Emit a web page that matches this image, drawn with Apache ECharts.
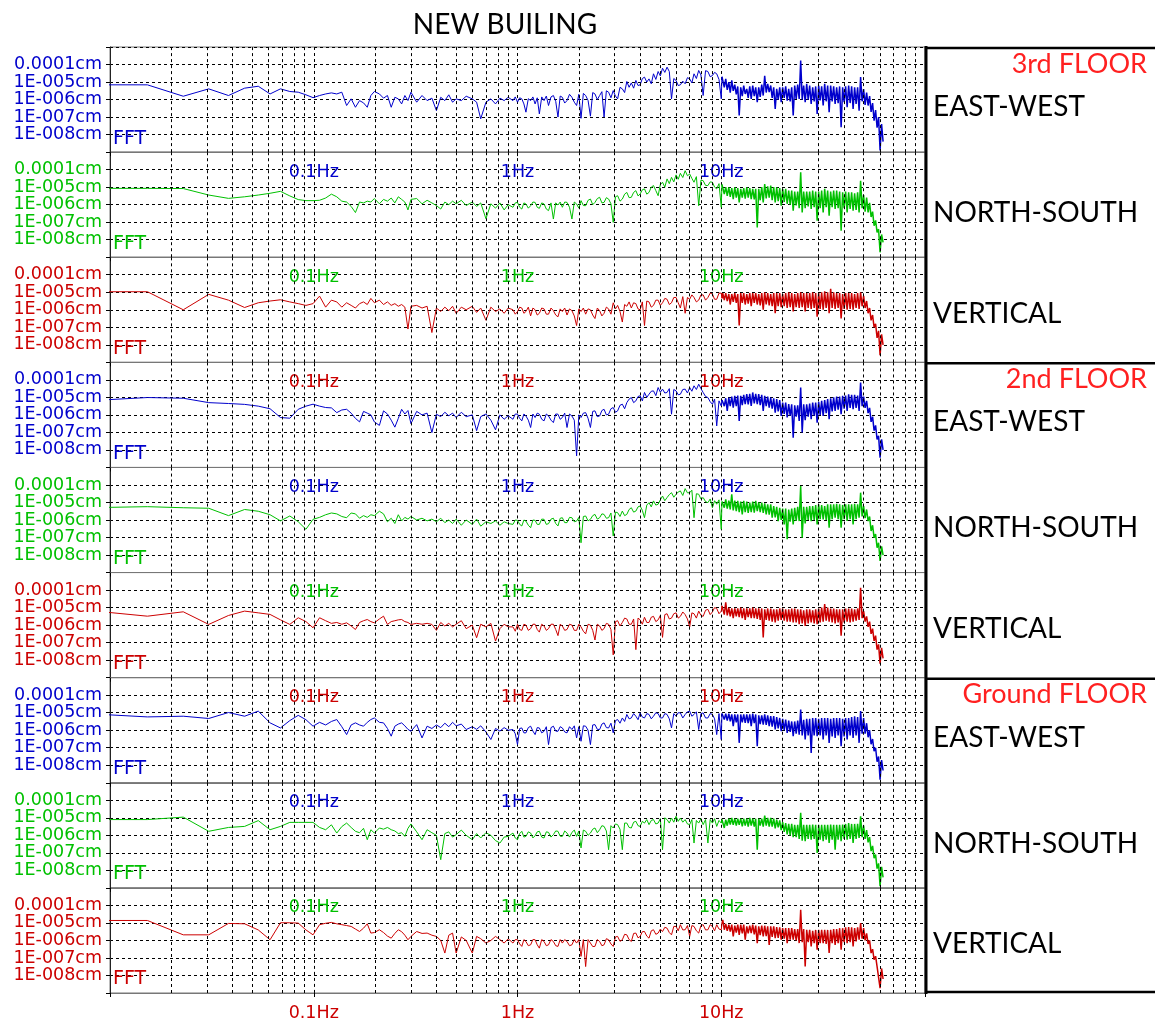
<!DOCTYPE html>
<html><head><meta charset="utf-8">
<script src="https://cdn.jsdelivr.net/npm/echarts@6/dist/echarts.min.js"></script>
<style>html,body{margin:0;padding:0;background:#fff}#c{width:1155px;height:1022px}</style>
</head><body><div id="c"></div><script>
// ---------- DATA ----------
const chartTitle = 'NEW BUILING';
const floorNames = ['3rd FLOOR', '2nd FLOOR', 'Ground FLOOR'];
const directionNames = ['EAST-WEST', 'NORTH-SOUTH', 'VERTICAL'];
const xTickValues = [0.1, 1, 10];
const xTickLabels = ['0.1Hz', '1Hz', '10Hz'];
const yTickValues = [1e-4, 1e-5, 1e-6, 1e-7, 1e-8];
const yTickLabels = ['0.0001cm', '1E-005cm', '1E-006cm', '1E-007cm', '1E-008cm'];
const minorGridHz = [0.02,0.03,0.04,0.05,0.06,0.07,0.08,0.09,0.2,0.3,0.4,0.5,0.6,0.7,0.8,0.9,2,3,4,5,6,7,8,9,20,30,40,50,60,70,80,90];

// frequencies (Hz) of the points, below 1 Hz
const freqLowHz = [0.00763,0.01526,0.02289,0.03052,0.03815,0.04578,0.05341,0.06104,0.06866,0.07629,0.08392,0.09155,0.09918,
0.1068,0.1144,0.1221,0.1297,0.1373,0.1450,0.1526,0.1602,0.1678,0.1755,0.1831,0.1907,0.1984,
0.21,0.22,0.23,0.24,0.25,0.26,0.27,0.28,0.29,0.30,
0.32,0.34,0.36,0.38,0.40,0.42,0.44,0.46,0.48,0.50,
0.53,0.56,0.60,0.63,0.66,0.70,0.74,0.78,0.82,0.86,0.90];
// 1-10 Hz: main points and the points read on the other side of the noise band just after them
const freqMidHz = [0.95,1.00,1.05,1.10,1.16,1.22,1.28,1.35,1.42,1.50,1.58,1.66,1.75,1.85,1.95,2.05,2.16,2.28,2.40,2.53,
2.66,2.80,2.95,3.10,3.27,3.44,3.62,3.81,4.00,4.20,4.42,4.65,4.90,5.15,5.42,5.70,6.00,6.30,6.65,7.00,
7.35,7.75,8.15,8.60,9.05,9.50,10.0];
const freqMidAltHz = [0.975,1.025,1.075,1.13,1.19,1.25,1.315,1.385,1.46,1.54,1.62,1.705,1.80,1.90,2.00,2.105,2.22,2.34,2.465,2.595,
2.73,2.875,3.025,3.185,3.355,3.53,3.715,3.905,4.10,4.31,4.535,4.775,5.025,5.285,5.56,5.85,6.15,6.475,6.825,7.175,
7.55,7.95,8.375,8.825,9.275,9.75,10.08];
// dense band above 10 Hz
const freqHighHz = [10.17,10.35,10.52,10.70,10.89,11.07,11.26,11.45,11.65,11.85,12.05,12.25,12.46,12.68,12.89,13.11,
13.34,13.56,13.80,14.03,14.27,14.52,14.76,15.02,15.27,15.53,15.80,16.07,16.34,16.62,16.90,17.19,
17.49,17.78,18.09,18.40,18.71,19.03,19.36,19.69,20.02,20.37,20.71,21.07,21.43,21.79,22.17,22.55,
22.93,23.32,23.72,24.13,24.54,24.96,25.38,25.82,26.26,26.71,27.16,27.63,28.10,28.58,29.07,29.56,
30.07,30.58,31.10,31.64,32.18,32.73,33.28,33.85,34.43,35.02,35.62,36.22,36.84,37.47,38.11,38.76,
39.42,40.10,40.78,41.48,42.19,42.91,43.64,44.38,45.14,45.91,46.69,47.49,48.30,49.13,49.97,50.82,
51.69,52.57,53.47,54.38,55.31,56.25,57.21,58.19,59.18,60.19,61.22,62.27];

// amplitudes, as log10 of the displacement in cm
// --- below 1 Hz
const ew3Low = [-5.16,-5.16,-5.81,-5.39,-5.77,-5.35,-5.24,-5.68,-5.39,-5.54,-5.58,-5.73,-5.89,
-5.77,-5.68,-5.62,-5.68,-5.58,-6.34,-5.96,-6.44,-6.06,-6.19,-6.44,-5.77,-5.54,
-5.68,-5.92,-5.77,-6.44,-5.87,-5.96,-6.25,-5.77,-6.06,-5.58,
-6.15,-5.77,-6.06,-5.92,-6.63,-5.87,-6.06,-5.73,-6.15,-5.96,
-6.06,-5.81,-5.96,-6.15,-7.10,-6.15,-5.96,-6.25,-5.92,-6.06,-5.87];
const ns3Low = [-5.07,-5.07,-5.08,-5.45,-5.64,-5.55,-5.45,-5.35,-5.24,-5.50,-5.71,-5.77,-5.77,
-5.75,-5.62,-5.40,-5.55,-5.80,-5.85,-6.10,-6.45,-5.85,-5.90,-5.80,-5.85,-5.65,
-5.95,-5.70,-5.80,-5.62,-5.90,-5.55,-5.70,-5.85,-6.30,-5.70,
-5.65,-5.95,-5.75,-5.90,-6.05,-6.25,-5.85,-6.00,-5.80,-5.95,
-5.75,-6.05,-5.85,-6.10,-5.90,-6.80,-5.95,-6.20,-5.90,-6.30,-6.00];
const v3Low = [-4.97,-4.97,-6.00,-5.12,-5.45,-5.87,-5.60,-5.50,-5.43,-5.55,-5.65,-5.75,-5.65,
-5.22,-5.85,-5.45,-5.55,-5.85,-5.60,-5.75,-5.90,-5.65,-5.55,-5.70,-5.35,-5.60,
-5.45,-5.70,-5.55,-5.75,-5.65,-5.80,-5.70,-5.85,-7.10,-5.80,
-5.75,-5.90,-5.80,-7.30,-5.90,-6.10,-5.85,-6.05,-5.80,-6.20,
-5.85,-6.00,-5.80,-6.15,-5.90,-6.60,-5.85,-6.10,-5.95,-6.20,-5.90];
const ew2Low = [-5.20,-5.01,-5.05,-5.30,-5.35,-5.40,-5.50,-5.65,-6.15,-6.19,-5.68,-5.50,-5.39,
-5.50,-5.58,-5.60,-5.87,-5.72,-5.68,-5.90,-6.20,-6.40,-5.80,-5.90,-6.00,-6.40,
-6.60,-5.77,-5.95,-6.30,-6.70,-6.20,-5.68,-5.95,-5.75,-6.50,
-5.80,-6.00,-5.90,-7.01,-5.96,-6.10,-5.85,-6.05,-5.90,-6.15,
-5.85,-6.10,-6.00,-6.90,-6.10,-5.95,-6.30,-6.85,-6.00,-6.25,-6.05];
const ns2Low = [-5.30,-5.24,-5.30,-5.33,-5.75,-5.40,-5.50,-5.70,-6.05,-5.77,-6.10,-6.53,-5.96,
-5.85,-5.70,-5.60,-5.65,-5.80,-5.87,-5.60,-5.65,-5.90,-5.75,-5.85,-5.70,-5.75,
-5.50,-5.65,-6.10,-5.90,-6.20,-5.70,-6.05,-5.85,-5.95,-5.80,
-6.00,-5.90,-6.05,-5.95,-6.10,-5.90,-6.15,-6.00,-6.20,-5.95,
-6.30,-6.00,-6.25,-5.95,-6.35,-6.10,-6.20,-6.05,-6.30,-6.10,-6.20];
const v2Low = [-5.15,-5.49,-5.24,-5.96,-5.45,-5.20,-5.30,-5.39,-5.70,-5.96,-5.58,-5.80,-6.15,
-5.58,-5.75,-5.90,-5.85,-5.95,-5.87,-6.05,-6.25,-5.85,-5.75,-5.68,-5.80,-5.87,
-5.65,-5.49,-5.96,-5.80,-5.75,-5.70,-5.68,-5.80,-5.85,-5.96,
-5.90,-5.95,-5.90,-5.96,-6.30,-5.85,-6.05,-5.90,-6.10,-5.95,
-5.75,-6.20,-6.00,-6.72,-5.95,-6.10,-5.90,-6.91,-6.20,-5.95,-6.10];
const ewGLow = [-5.05,-5.24,-5.20,-5.33,-4.99,-5.20,-4.91,-5.58,-5.87,-5.45,-5.15,-5.40,-5.77,
-5.55,-5.70,-5.50,-5.39,-5.80,-6.25,-5.70,-5.58,-5.70,-5.77,-5.55,-5.39,-5.30,
-5.55,-5.58,-5.90,-6.34,-5.77,-5.65,-5.58,-5.75,-5.95,-6.06,
-5.68,-6.44,-5.77,-5.90,-5.70,-5.85,-5.60,-5.80,-5.55,-5.75,
-5.65,-5.96,-5.80,-5.95,-5.75,-6.10,-6.53,-5.90,-6.05,-5.85,-6.00];
const nsGLow = [-5.10,-5.10,-4.96,-5.77,-5.55,-5.49,-5.16,-5.68,-5.49,-5.26,-5.26,-5.26,-5.26,
-5.55,-5.68,-5.40,-5.87,-5.50,-5.30,-5.55,-5.77,-5.85,-5.60,-6.25,-5.68,-5.87,
-5.58,-5.65,-5.55,-5.68,-5.75,-5.90,-5.85,-6.06,-5.60,-5.35,
-5.80,-6.25,-5.68,-5.85,-6.00,-7.39,-5.90,-5.80,-6.10,-5.96,
-5.70,-6.00,-6.25,-5.90,-6.15,-5.85,-6.00,-6.30,-6.44,-6.10,-6.06];
const vGLow = [-4.86,-4.86,-5.68,-5.68,-5.03,-5.05,-5.40,-5.96,-4.99,-4.99,-5.01,-5.40,-5.68,
-5.10,-5.02,-4.97,-5.05,-5.10,-5.15,-5.20,-5.35,-5.49,-5.30,-5.05,-5.58,-5.55,
-5.39,-5.55,-5.75,-5.87,-5.60,-5.39,-5.50,-5.70,-5.96,-5.77,
-5.49,-5.60,-5.58,-5.70,-5.77,-6.00,-6.72,-5.70,-5.58,-6.72,
-5.80,-6.00,-6.72,-5.77,-5.90,-6.15,-6.00,-5.77,-5.95,-6.15,-5.90];

// --- 1-10 Hz main points
const ew3Mid = [-6.06,-6.15,-5.96,-6.72,-6.06,-6.25,-6.82,-6.06,-6.34,-5.77,-7.00,-5.87,-6.06,-5.87,-6.34,-7.07,-5.77,-6.95,-5.68,-5.77,
-7.00,-5.58,-5.49,-5.96,-5.39,-4.97,-5.05,-4.91,-5.16,-4.72,-4.82,-4.53,-4.40,-4.21,-4.15,-5.96,-4.91,-5.16,-5.10,-4.82,
-4.53,-4.34,-5.77,-4.40,-4.63,-4.53,-5.96];
const ns3Mid = [-6.15,-5.87,-6.25,-5.96,-6.06,-5.87,-6.21,-5.96,-6.34,-6.82,-6.02,-6.15,-5.87,-6.82,-5.96,-5.77,-6.06,-5.68,-5.87,-5.58,
-5.87,-5.68,-7.01,-5.49,-5.68,-5.30,-5.58,-5.20,-5.39,-5.10,-5.30,-4.91,-5.49,-4.72,-4.53,-4.44,-4.30,-4.21,-4.06,-4.25,
-4.72,-6.06,-4.63,-4.91,-4.72,-5.10,-6.15];
const v3Mid = [-6.00,-6.10,-5.90,-6.10,-6.35,-6.00,-6.20,-5.95,-6.25,-6.05,-6.40,-6.10,-6.30,-6.05,-6.90,-6.10,-6.25,-6.00,-6.50,-6.05,
-6.20,-5.95,-5.60,-5.75,-6.70,-5.80,-5.90,-5.65,-6.00,-6.90,-5.55,-5.75,-5.45,-5.60,-5.40,-5.60,-5.30,-5.90,-6.20,-5.40,
-5.30,-5.45,-5.15,-5.30,-5.10,-5.40,-5.05];
const ew2Mid = [-6.25,-5.96,-6.34,-6.06,-6.72,-6.15,-5.96,-6.34,-6.06,-6.44,-5.96,-6.15,-6.72,-6.06,-8.34,-6.15,-5.87,-6.72,-5.77,-6.06,
-5.68,-5.96,-5.58,-5.77,-5.39,-5.30,-5.01,-5.20,-4.91,-4.72,-4.82,-4.63,-4.44,-4.53,-4.72,-5.96,-4.63,-4.82,-4.53,-4.44,
-4.34,-4.25,-4.72,-5.01,-5.39,-6.63,-5.49];
const ns2Mid = [-6.25,-6.02,-6.34,-6.06,-6.44,-6.02,-6.25,-5.96,-6.21,-5.90,-6.34,-5.87,-6.15,-5.87,-6.06,-7.30,-5.77,-5.96,-5.68,-5.87,
-5.68,-5.87,-6.91,-5.58,-5.49,-5.68,-5.30,-5.49,-5.20,-5.87,-5.01,-4.91,-5.10,-4.63,-4.72,-4.44,-4.53,-4.34,-4.21,-4.44,
-5.87,-4.53,-4.72,-5.01,-5.30,-5.10,-6.53];
const v2Mid = [-6.10,-5.95,-6.30,-6.00,-6.20,-5.95,-6.40,-6.05,-6.20,-5.95,-6.60,-6.05,-6.25,-6.00,-6.30,-6.10,-6.50,-6.00,-6.85,-6.05,
-6.20,-5.95,-7.70,-5.75,-5.85,-5.65,-5.95,-7.40,-5.70,-5.55,-5.85,-5.50,-5.70,-6.70,-5.35,-5.60,-5.30,-5.50,-5.40,-6.10,
-5.35,-5.20,-5.50,-5.10,-5.25,-5.05,-5.20];
const ewGMid = [-5.96,-6.82,-5.87,-6.15,-5.77,-6.25,-5.87,-6.06,-6.82,-5.77,-6.06,-5.87,-6.15,-5.96,-6.44,-6.63,-5.77,-6.82,-5.68,-5.96,
-5.58,-5.87,-6.15,-5.39,-5.30,-5.10,-5.30,-5.20,-5.01,-5.30,-5.10,-5.20,-5.05,-5.30,-5.10,-5.87,-5.20,-5.01,-5.10,-4.91,
-5.10,-5.96,-5.01,-5.30,-5.10,-6.25,-6.53];
const nsGMid = [-5.87,-6.25,-5.77,-6.06,-5.87,-6.02,-5.77,-6.15,-5.83,-5.96,-5.77,-6.06,-5.87,-5.83,-6.06,-6.72,-5.77,-5.87,-5.58,-5.68,
-5.49,-6.82,-5.58,-5.39,-6.82,-5.30,-5.58,-5.20,-5.49,-5.30,-5.39,-5.10,-5.30,-6.82,-5.10,-5.01,-4.91,-5.01,-5.10,-5.39,
-6.44,-5.30,-5.39,-6.44,-5.30,-5.49,-5.30];
const vGMid = [-6.15,-5.96,-6.34,-6.06,-6.25,-5.96,-6.44,-6.06,-6.25,-6.06,-6.34,-6.15,-6.06,-6.25,-6.15,-6.91,-7.49,-6.15,-6.34,-6.06,
-6.25,-5.96,-6.34,-5.77,-5.96,-5.68,-6.06,-5.58,-5.77,-5.49,-5.87,-5.39,-5.58,-5.49,-5.30,-5.68,-5.20,-5.10,-5.39,-5.77,
-5.20,-5.58,-5.10,-5.39,-5.20,-5.10,-5.39];

// --- 1-10 Hz points on the other side of the noise band
const ew3MidAlt = [-5.85,-5.90,-6.25,-5.95,-5.85,-5.90,-5.85,-5.80,-5.85,-6.10,-5.80,-6.20,-5.70,-6.15,-5.70,-5.65,-6.05,-5.60,-6.00,-5.55,
-5.50,-5.90,-5.80,-5.30,-5.60,-5.30,-5.35,-5.20,-4.80,-5.00,-5.10,-4.85,-4.65,-4.45,-4.40,-4.80,-5.20,-4.95,-4.75,-5.05,
-4.80,-4.60,-4.35,-4.70,-4.45,-4.85,-4.70];
const ns3MidAlt = [-5.90,-6.15,-5.90,-6.20,-5.85,-6.15,-5.90,-6.25,-5.90,-5.90,-5.85,-5.85,-6.15,-5.85,-6.20,-6.05,-5.75,-6.00,-5.65,-5.90,
-5.60,-5.95,-5.55,-5.80,-5.40,-5.60,-5.30,-5.50,-5.15,-5.40,-5.00,-5.20,-4.85,-5.00,-4.80,-4.70,-4.55,-4.45,-4.35,-4.50,
-4.40,-4.60,-4.90,-4.70,-5.00,-4.80,-4.85];
const v3MidAlt = [-6.25,-5.85,-6.20,-5.85,-5.90,-6.30,-5.90,-6.25,-5.90,-6.30,-5.95,-5.90,-5.95,-6.35,-5.95,-5.90,-5.95,-6.30,-5.90,-6.35,
-5.85,-6.25,-5.95,-6.10,-5.70,-5.55,-5.60,-5.95,-5.55,-5.50,-5.85,-5.45,-5.75,-5.35,-5.70,-5.30,-5.60,-5.25,-5.30,-5.15,
-5.55,-5.15,-5.45,-5.05,-5.40,-5.05,-5.35];
const ew2MidAlt = [-5.95,-6.20,-5.95,-6.30,-5.95,-5.90,-6.25,-5.95,-6.30,-5.95,-6.25,-5.90,-5.95,-6.30,-6.00,-5.90,-6.20,-5.80,-6.10,-5.75,
-6.00,-5.65,-5.85,-5.45,-5.65,-5.10,-5.30,-4.95,-5.20,-5.00,-4.65,-4.90,-4.70,-4.75,-4.50,-4.55,-4.85,-4.55,-4.75,-4.65,
-4.55,-4.50,-4.95,-5.25,-5.10,-5.20,-5.15];
const ns2MidAlt = [-6.00,-6.25,-6.00,-6.30,-6.00,-6.25,-5.95,-6.25,-5.95,-6.20,-5.90,-6.15,-5.85,-6.10,-5.85,-5.80,-6.05,-5.75,-5.95,-5.65,
-5.90,-5.60,-5.55,-5.80,-5.75,-5.40,-5.55,-5.25,-5.45,-5.15,-5.25,-5.15,-4.85,-4.90,-4.55,-4.70,-4.40,-4.60,-4.45,-4.30,
-4.50,-4.80,-4.95,-4.80,-4.90,-4.85,-4.95];
const v2MidAlt = [-6.35,-6.25,-5.95,-6.30,-5.95,-6.25,-5.95,-6.30,-5.95,-6.25,-5.95,-6.30,-5.95,-6.30,-5.95,-6.35,-5.95,-6.30,-5.95,-6.30,
-5.90,-6.25,-5.80,-6.05,-5.60,-5.95,-5.65,-5.60,-5.95,-5.85,-5.55,-5.80,-5.45,-5.40,-5.65,-5.35,-5.60,-5.25,-5.65,-5.30,
-5.60,-5.45,-5.15,-5.40,-5.00,-5.35,-4.90];
const ewGMidAlt = [-6.20,-5.90,-6.15,-5.85,-6.05,-5.85,-6.15,-5.80,-5.85,-6.05,-5.80,-6.10,-5.80,-5.75,-5.80,-5.75,-6.00,-5.70,-5.95,-5.65,
-5.85,-5.60,-5.45,-5.60,-5.50,-5.35,-5.05,-5.40,-5.25,-5.05,-5.35,-5.00,-5.30,-5.05,-5.35,-5.05,-5.00,-5.30,-4.95,-5.20,
-4.95,-5.05,-5.30,-5.05,-5.35,-5.05,-5.05];
const nsGMidAlt = [-6.15,-5.90,-6.10,-5.80,-6.15,-5.80,-6.10,-5.80,-6.10,-5.75,-6.05,-5.75,-6.10,-5.70,-5.75,-5.70,-6.00,-5.65,-5.85,-5.45,
-5.75,-5.45,-5.35,-5.65,-5.30,-5.55,-5.25,-5.45,-5.20,-5.10,-5.15,-5.35,-5.05,-5.00,-5.30,-5.25,-5.20,-5.25,-5.35,-5.10,
-5.15,-5.05,-5.10,-5.10,-5.05,-5.15,-5.10];
const vGMidAlt = [-5.95,-6.20,-5.95,-6.30,-5.95,-6.25,-5.95,-6.30,-5.95,-6.30,-5.95,-5.95,-6.30,-5.95,-5.95,-5.95,-5.95,-6.35,-5.95,-6.30,
-5.90,-6.20,-5.80,-6.05,-5.65,-5.95,-5.60,-5.85,-5.50,-5.75,-5.45,-5.65,-5.35,-5.25,-5.55,-5.20,-5.45,-5.40,-5.15,-5.15,
-5.45,-5.15,-5.40,-5.10,-5.45,-5.35,-5.05];

// --- above 10 Hz: alternating top / bottom of the dense noise band
const ew3Hi = [-4.72,-5.30,-4.82,-5.45,-5.01,-5.60,-4.91,-5.50,-5.15,-5.70,-5.25,-6.91,-5.30,-5.80,-5.20,-5.68,
-5.39,-5.90,-5.25,-5.96,-5.20,-5.80,-5.30,-6.15,-5.30,-5.85,-5.15,-5.77,-4.65,-5.60,-5.10,-5.58,
-5.20,-5.90,-5.30,-6.53,-5.39,-6.00,-5.30,-6.15,-5.30,-5.90,-5.25,-6.06,-5.39,-6.10,-5.30,-6.91,
-5.20,-5.96,-5.15,-5.96,-3.77,-6.00,-5.20,-6.15,-5.10,-6.00,-5.20,-6.25,-5.30,-6.10,-5.25,-6.82,
-5.20,-6.05,-5.25,-6.34,-5.10,-6.10,-5.20,-6.72,-5.20,-6.10,-5.25,-6.25,-5.30,-6.20,-5.25,-7.58,
-5.30,-6.15,-5.25,-6.44,-5.20,-6.20,-5.25,-6.53,-5.30,-6.25,-5.30,-6.63,-4.72,-6.10,-5.40,-6.30,
-5.60,-6.34,-5.80,-6.70,-6.20,-7.20,-6.60,-7.60,-7.00,-8.90,-7.40,-8.40];
const ns3Hi = [-4.91,-5.40,-5.00,-5.50,-5.01,-5.55,-5.05,-5.68,-5.01,-5.60,-5.05,-5.87,-5.10,-5.60,-5.05,-5.65,
-5.01,-5.60,-5.05,-5.68,-5.10,-5.70,-5.10,-7.30,-5.10,-5.75,-5.00,-5.87,-4.82,-5.65,-4.95,-5.60,
-4.91,-5.75,-5.00,-5.87,-5.01,-5.80,-5.05,-6.06,-5.10,-5.85,-5.10,-5.95,-5.20,-6.00,-5.20,-6.34,
-5.25,-6.05,-5.25,-6.20,-4.15,-6.44,-5.25,-6.20,-5.25,-6.10,-5.25,-6.25,-5.20,-6.15,-5.25,-6.91,
-5.25,-6.20,-5.20,-6.44,-5.10,-6.15,-5.20,-6.63,-5.25,-6.15,-5.20,-6.25,-5.20,-6.20,-5.25,-7.49,
-5.30,-6.20,-5.25,-6.44,-5.30,-6.25,-5.30,-6.34,-5.35,-6.30,-5.30,-6.44,-4.63,-6.20,-5.45,-6.40,
-5.60,-6.44,-5.90,-6.70,-6.40,-7.20,-6.90,-7.58,-7.40,-8.72,-7.70,-8.15];
const v3Hi = [-5.05,-5.45,-5.05,-5.50,-5.10,-5.70,-5.10,-5.55,-5.05,-5.60,-5.10,-6.90,-5.05,-5.60,-5.05,-5.70,
-5.10,-5.65,-5.05,-5.80,-5.05,-5.60,-5.05,-5.70,-5.10,-5.75,-5.05,-6.00,-5.00,-5.70,-5.05,-5.75,
-5.10,-5.80,-5.05,-6.20,-5.05,-5.80,-5.05,-5.85,-5.10,-5.80,-5.05,-5.90,-5.00,-5.85,-5.05,-6.10,
-5.10,-5.85,-5.05,-5.90,-5.00,-5.85,-5.05,-6.10,-5.05,-5.90,-5.05,-5.95,-5.00,-5.90,-5.05,-6.40,
-5.05,-5.95,-5.00,-6.00,-4.95,-5.90,-5.00,-6.20,-4.80,-5.90,-5.00,-5.95,-5.05,-5.90,-5.05,-6.50,
-5.10,-5.95,-5.05,-6.00,-5.05,-5.95,-5.05,-6.00,-5.10,-5.90,-5.05,-5.95,-5.00,-5.80,-5.20,-5.90,
-5.50,-6.20,-5.90,-6.60,-6.30,-7.00,-6.80,-7.60,-7.20,-8.60,-7.40,-8.00];
const ew2Hi = [-5.10,-5.50,-5.05,-5.77,-5.01,-5.50,-4.95,-5.58,-4.91,-5.50,-4.90,-6.34,-4.91,-5.45,-4.85,-5.39,
-4.82,-5.40,-4.80,-5.49,-4.72,-5.35,-4.80,-5.39,-4.82,-5.45,-4.85,-5.77,-4.91,-5.50,-4.95,-5.58,
-5.01,-5.65,-5.05,-5.87,-5.10,-5.80,-5.15,-6.06,-5.30,-5.95,-5.30,-6.15,-5.39,-6.05,-5.40,-7.30,
-5.45,-6.10,-5.45,-6.34,-4.44,-7.01,-5.40,-6.30,-5.40,-6.10,-5.35,-6.25,-5.30,-6.05,-5.30,-6.44,
-5.25,-6.00,-5.20,-6.06,-5.15,-5.90,-5.10,-6.25,-5.05,-5.80,-5.00,-5.77,-4.95,-5.70,-4.95,-5.96,
-4.91,-5.65,-4.90,-5.77,-4.82,-5.60,-4.85,-5.68,-4.85,-5.60,-4.90,-5.77,-4.15,-5.50,-4.95,-5.60,
-5.20,-5.90,-5.60,-6.40,-6.10,-6.90,-6.60,-7.40,-7.20,-8.44,-7.39,-8.00];
const ns2Hi = [-4.95,-5.30,-4.82,-5.35,-4.90,-5.40,-4.53,-5.45,-4.90,-5.50,-4.91,-5.55,-4.95,-5.68,-4.91,-5.55,
-4.95,-5.60,-5.01,-5.55,-4.95,-5.58,-4.91,-5.50,-5.00,-5.55,-5.01,-5.60,-5.05,-5.68,-5.10,-5.70,
-5.10,-5.87,-5.20,-5.85,-5.25,-6.06,-5.30,-6.00,-5.35,-6.25,-5.35,-7.10,-5.40,-6.10,-5.35,-6.25,
-5.30,-6.05,-5.25,-6.06,-4.06,-7.01,-5.25,-6.20,-5.25,-6.00,-5.20,-6.06,-5.20,-6.00,-5.15,-6.25,
-5.10,-5.95,-5.15,-5.96,-5.20,-6.00,-5.10,-6.44,-5.10,-5.95,-5.10,-5.87,-5.07,-5.95,-5.10,-6.44,
-5.14,-5.95,-5.10,-6.06,-5.10,-5.95,-5.10,-6.25,-5.07,-5.95,-5.10,-5.87,-4.44,-5.80,-5.20,-5.90,
-5.40,-6.06,-5.80,-6.63,-6.30,-7.01,-6.80,-7.58,-7.30,-8.34,-7.50,-8.00];
const v2Hi = [-5.00,-5.40,-4.70,-5.45,-5.00,-5.50,-5.05,-5.60,-5.05,-5.50,-5.05,-5.55,-5.00,-5.60,-5.05,-5.70,
-5.05,-5.55,-5.05,-5.60,-5.00,-5.60,-5.05,-5.65,-5.05,-5.70,-5.05,-6.70,-5.10,-5.70,-5.05,-5.75,
-5.05,-5.80,-5.10,-5.85,-5.10,-5.75,-5.05,-5.70,-5.05,-5.75,-5.10,-5.80,-5.10,-5.80,-5.05,-5.85,
-5.05,-5.85,-5.10,-5.95,-5.10,-5.90,-5.15,-6.05,-5.10,-5.90,-5.10,-5.85,-5.15,-5.90,-5.10,-5.95,
-5.05,-5.85,-5.00,-5.80,-4.80,-5.75,-5.00,-5.80,-5.05,-5.85,-5.05,-5.90,-5.10,-5.85,-5.10,-6.60,
-5.10,-5.85,-5.05,-5.80,-5.05,-5.85,-5.05,-5.80,-5.10,-5.75,-5.05,-5.70,-3.87,-5.60,-5.20,-5.80,
-5.50,-6.10,-5.80,-6.50,-6.20,-6.90,-6.60,-7.40,-7.10,-8.20,-7.30,-7.90];
const ewGHi = [-5.05,-5.39,-5.05,-5.45,-5.05,-5.50,-5.10,-5.77,-5.10,-5.55,-5.10,-6.72,-5.10,-5.55,-5.10,-5.58,
-5.10,-5.60,-5.10,-5.77,-5.05,-5.60,-5.10,-6.91,-5.15,-5.65,-5.15,-5.68,-5.10,-5.70,-5.15,-5.77,
-5.20,-5.80,-5.20,-5.96,-5.25,-5.90,-5.30,-6.06,-5.35,-6.00,-5.40,-6.15,-5.45,-6.10,-5.50,-6.34,
-5.50,-6.20,-5.45,-6.25,-4.82,-6.30,-5.40,-6.53,-5.35,-6.30,-5.35,-7.30,-5.30,-6.30,-5.30,-6.34,
-5.35,-6.30,-5.30,-6.53,-5.30,-6.30,-5.30,-6.72,-5.35,-6.35,-5.30,-6.44,-5.30,-6.30,-5.30,-6.91,
-5.35,-6.35,-5.30,-6.53,-5.30,-6.30,-5.25,-6.44,-5.20,-6.30,-5.25,-6.72,-4.91,-6.20,-5.30,-6.20,
-5.60,-6.40,-6.00,-6.80,-6.50,-7.20,-7.00,-7.80,-7.50,-8.82,-7.70,-8.30];
const nsGHi = [-5.10,-5.58,-5.10,-5.45,-5.05,-5.39,-5.01,-5.40,-5.05,-5.45,-5.05,-5.40,-5.05,-5.49,-5.05,-5.45,
-5.05,-5.50,-5.01,-5.45,-5.05,-5.50,-5.05,-6.82,-5.05,-5.45,-5.05,-5.50,-4.88,-5.45,-5.00,-5.50,
-5.01,-5.50,-5.05,-5.60,-5.10,-5.55,-5.15,-5.70,-5.25,-5.80,-5.30,-5.95,-5.35,-6.00,-5.35,-6.10,
-5.40,-6.10,-5.40,-6.20,-4.72,-6.30,-5.40,-6.34,-5.40,-6.20,-5.40,-6.25,-5.39,-6.20,-5.40,-7.01,
-5.40,-6.25,-5.40,-6.34,-5.40,-6.25,-5.40,-6.44,-5.39,-6.25,-5.40,-6.82,-5.40,-6.25,-5.40,-6.34,
-5.39,-6.20,-5.35,-6.25,-5.30,-6.20,-5.35,-6.44,-5.35,-6.20,-5.35,-6.15,-4.91,-6.10,-5.45,-6.20,
-5.70,-6.40,-6.10,-6.90,-6.60,-7.30,-7.10,-7.90,-7.60,-8.91,-7.80,-8.40];
const vGHi = [-4.82,-5.39,-5.05,-5.45,-5.10,-5.50,-5.10,-5.77,-5.16,-5.55,-5.10,-5.68,-5.10,-5.60,-5.10,-5.96,
-5.20,-5.60,-5.15,-5.58,-5.10,-5.65,-5.15,-6.15,-5.20,-5.70,-5.15,-5.77,-5.16,-5.75,-5.20,-6.25,
-5.20,-5.80,-5.20,-5.87,-5.24,-5.85,-5.25,-5.96,-5.30,-5.90,-5.30,-6.15,-5.30,-5.95,-5.30,-5.96,
-5.35,-6.00,-5.35,-6.15,-4.25,-6.10,-5.35,-7.49,-5.39,-6.10,-5.40,-6.34,-5.45,-6.15,-5.40,-6.53,
-5.39,-6.15,-5.40,-6.15,-5.40,-6.20,-5.40,-6.72,-5.39,-6.15,-5.35,-6.25,-5.35,-6.15,-5.30,-6.53,
-5.30,-6.10,-5.25,-6.15,-5.24,-6.10,-5.25,-6.34,-5.30,-6.05,-5.25,-5.96,-5.01,-5.90,-5.30,-6.00,
-5.60,-6.20,-6.00,-6.72,-6.50,-7.10,-6.90,-7.49,-7.40,-8.72,-7.60,-8.20];

const panelLow = [ew3Low, ns3Low, v3Low, ew2Low, ns2Low, v2Low, ewGLow, nsGLow, vGLow];
const panelMid = [ew3Mid, ns3Mid, v3Mid, ew2Mid, ns2Mid, v2Mid, ewGMid, nsGMid, vGMid];
const panelMidAlt = [ew3MidAlt, ns3MidAlt, v3MidAlt, ew2MidAlt, ns2MidAlt, v2MidAlt, ewGMidAlt, nsGMidAlt, vGMidAlt];
const panelHigh = [ew3Hi, ns3Hi, v3Hi, ew2Hi, ns2Hi, v2Hi, ewGHi, nsGHi, vGHi];

// ---------- STYLE / LAYOUT ----------
const dirColors = ['#0000cc', '#00c000', '#cc0000'];
const floorColor = '#ff2020';
const L = 110, R = 925, T = 47, B = 993;
const H = (B - T) / 9;
const axisFont = 'DejaVu Sans';

function matchTick(v, values, labels) {
  for (let i = 0; i < values.length; i++) {
    if (Math.abs(Math.log10(v) - Math.log10(values[i])) < 1e-6) return labels[i];
  }
  return '';
}
const amp = e => Math.pow(10, e);

const grids = [], xAxes = [], yAxes = [], series = [], graphics = [];
for (let i = 0; i < 9; i++) {
  const top = T + i * H;
  const color = dirColors[i % 3];
  grids.push({left: L, top: top, width: R - L, height: H, show: true, borderColor: '#777', borderWidth: 1, backgroundColor: 'transparent'});
  xAxes.push({
    type: 'log', logBase: 10, gridIndex: i, min: 0.01, max: 100, splitNumber: 4,
    axisLine: {show: true, lineStyle: {color: '#777', width: 1}},
    axisTick: {show: true, length: 4, lineStyle: {color: '#000'}},
    axisLabel: {show: true, margin: 11, color: color, fontFamily: axisFont, fontSize: 17.5,
      formatter: v => matchTick(v, xTickValues, xTickLabels)},
    splitLine: {show: true, showMinLine: false, showMaxLine: false, lineStyle: {color: '#000', type: [3, 3], width: 1}},
    minorTick: {show: false}, minorSplitLine: {show: false}
  });
  yAxes.push({
    type: 'log', logBase: 10, gridIndex: i, min: 1e-9, max: 1e-3, splitNumber: 6,
    axisLine: {show: true, lineStyle: {color: '#222', width: 1}},
    axisTick: {show: true, length: 4, lineStyle: {color: '#000'}},
    axisLabel: {show: true, margin: 8, color: color, fontFamily: axisFont, fontSize: 17.5,
      formatter: v => matchTick(v, yTickValues, yTickLabels)},
    splitLine: {show: true, showMinLine: false, showMaxLine: false, lineStyle: {color: '#000', type: [3, 3], width: 1}}
  });
  series.push({
    type: 'line', xAxisIndex: i, yAxisIndex: i, z: 1, silent: true, animation: false,
    symbol: 'none', data: [],
    markLine: {silent: true, animation: false, symbol: ['none', 'none'], label: {show: false},
      lineStyle: {color: '#000', type: [3, 3], width: 1},
      data: minorGridHz.map(f => ({xAxis: f}))}
  });
  const lo = panelLow[i], mid = panelMid[i], alt = panelMidAlt[i], hi = panelHigh[i];
  const ptsLow = freqLowHz.map((f, k) => [f, amp(lo[k])]);
  freqMidHz.forEach((f, k) => {
    ptsLow.push([f, amp(mid[k])]);
    ptsLow.push([freqMidAltHz[k], amp(alt[k])]);
  });
  const lastLow = ptsLow[ptsLow.length - 1];
  const ptsHigh = [lastLow].concat(freqHighHz.map((f, k) => [f, amp(hi[k])]));
  series.push({
    type: 'line', xAxisIndex: i, yAxisIndex: i, z: 3, silent: true, animation: false,
    symbol: 'none', showSymbol: false, clip: true, sampling: null,
    lineStyle: {color: color, width: 1}, itemStyle: {color: color},
    data: ptsLow
  });
  series.push({
    type: 'line', xAxisIndex: i, yAxisIndex: i, z: 3, silent: true, animation: false,
    symbol: 'none', showSymbol: false, clip: true, sampling: null,
    lineStyle: {color: color, width: 1.5}, itemStyle: {color: color},
    data: ptsHigh
  });
  graphics.push({type: 'text', x: 113, y: top + H - 13.5, z: 10,
    style: {text: 'FFT', fill: color, font: '19px "DejaVu Sans"', textAlign: 'left', textVerticalAlign: 'middle', align: 'left', verticalAlign: 'middle'}});
}

// right-hand label box
const boxX = 926;
graphics.push({type: 'line', z: 20, shape: {x1: boxX, y1: T - 1, x2: boxX, y2: B + 1}, style: {stroke: '#000', lineWidth: 3}});
for (let f = 0; f <= 3; f++) {
  const y = T + f * 3 * H + (f === 3 ? -1 : 1);
  graphics.push({type: 'line', z: 20, shape: {x1: boxX, y1: y, x2: 1160, y2: y}, style: {stroke: '#000', lineWidth: 2.5}});
}
const dirOffsets = [60, 61, 56.5];
for (let f = 0; f < 3; f++) {
  const top = T + f * 3 * H;
  graphics.push({type: 'text', z: 21, x: 1147, y: top + 17,
    style: {text: floorNames[f], fill: floorColor, font: '27px Lato', textAlign: 'right', textVerticalAlign: 'middle', align: 'right', verticalAlign: 'middle'}});
  for (let d = 0; d < 3; d++) {
    graphics.push({type: 'text', z: 21, x: 933, y: top + d * H + dirOffsets[d],
      style: {text: directionNames[d], fill: '#000', font: '28px Lato', textAlign: 'left', textVerticalAlign: 'middle', align: 'left', verticalAlign: 'middle'}});
  }
}

const chart = echarts.init(document.getElementById('c'), null, {renderer: 'canvas'});
chart.setOption({
  animation: false,
  backgroundColor: '#fff',
  title: {text: chartTitle, left: 500, top: 6, textAlign: 'center',
    textStyle: {fontFamily: 'Lato', fontSize: 28, fontWeight: 'normal', color: '#000'}},
  grid: grids, xAxis: xAxes, yAxis: yAxes, series: series, graphic: graphics
});
</script></body></html>
